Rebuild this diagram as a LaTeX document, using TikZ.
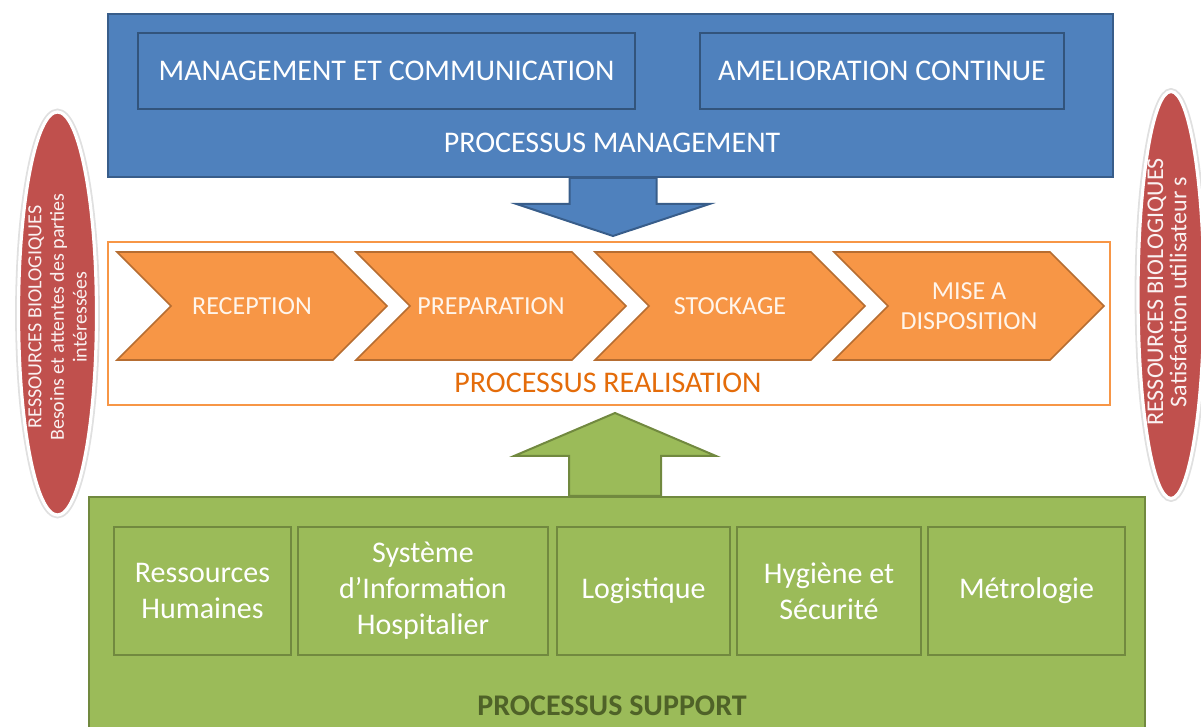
\documentclass[tikz,border=0pt]{standalone}
\usepackage{fontspec}
\setmainfont{Carlito}
\usepackage{xcolor}
\usepackage{tikz}
\usetikzlibrary{shapes.symbols, shapes.geometric, positioning}

\definecolor{mgblue}{HTML}{4F81BD}
\definecolor{mgblueline}{HTML}{385D8A}
\definecolor{reorange}{HTML}{F79646}
\definecolor{reorangeline}{HTML}{B66D31}
\definecolor{retext}{HTML}{E46C0A}
\definecolor{spgreen}{HTML}{9BBB59}
\definecolor{spgreenline}{HTML}{71893F}
\definecolor{sptext}{HTML}{4F6228}
\definecolor{rbred}{HTML}{C0504D}

\begin{document}
\begin{tikzpicture}[x=0.5pt, y=-0.5pt, node distance=119.5pt,
                    font=\fontsize{15}{18}\selectfont]
\tikzstyle{mgbox}=[rectangle, draw=mgblueline, fill=mgblue, line width=1pt,
                    text=white, inner sep=0pt]
\tikzstyle{spbox}=[rectangle, draw=spgreenline, fill=spgreen, line width=1.2pt,
                    text=white, inner sep=0pt, align=center,
                    minimum height=64pt]
\tikzstyle{chevron}=[signal, signal to=east, signal from=west,
                    signal pointer angle=90, draw=reorangeline, fill=reorange,
                    line width=0.8pt, text=white!92!orange, align=center,
                    minimum width=135pt, minimum height=54pt, inner sep=0pt,
                    font=\fontsize{13}{15}\selectfont]
\tikzstyle{rbell}=[ellipse, fill=rbred, draw=white, line width=1.6pt,
                    preaction={draw=black!12, line width=3.4pt}, inner sep=0pt]
\tikzstyle{rbtext}=[rotate=90, text=white!92!rbred, align=center, inner sep=0pt]
\useasboundingbox (0,0) rectangle (1201,727);

  \node[mgbox, minimum width=502.5pt, minimum height=81.5pt] (mgmt) at (610.5,95.5) {};
  \node[mgbox, line width=1.2pt, draw=mgblueline!90!black, minimum width=248.5pt,
        minimum height=38pt] (mgcom) at (386.5,71) {MANAGEMENT ET COMMUNICATION};
  \node[mgbox, line width=1.2pt, draw=mgblueline!90!black, minimum width=182pt,
        minimum height=38pt] (amelio) at (882,71) {AMELIORATION CONTINUE};
  \node[text=white] (mgmtlabel) at (612,143) {PROCESSUS MANAGEMENT};

  \node[rectangle, draw=reorange, fill=white, line width=1pt, minimum width=501pt,
        minimum height=81.5pt] (real) at (609,323.5) {};
  \node[chevron] (recep) at (252,306) {RECEPTION};
  \node[chevron] (prep) [right of=recep] {PREPARATION};
  \node[chevron] (stock) [right of=prep] {STOCKAGE};
  \node[chevron] (dispo) [right of=stock] {MISE A\\DISPOSITION};
  \node[text=retext] (reallabel) at (608,383) {PROCESSUS REALISATION};

  \node[rectangle, draw=spgreenline, fill=spgreen, line width=1pt, minimum width=528pt,
        minimum height=121.5pt] (supp) at (617,618.5) {};
  \node[spbox, minimum width=88.5pt] (rh) at (202.5,591) {Ressources\\Humaines};
  \node[spbox, minimum width=125pt] (sih) at (423,591) {Système\\d’Information\\Hospitalier};
  \node[spbox, minimum width=86.5pt] (logi) at (643.5,591) {Logistique};
  \node[spbox, minimum width=92pt] (hyg) at (829,591) {Hygiène et\\Sécurité};
  \node[spbox, minimum width=98.5pt] (metro) at (1026.5,591) {Métrologie};
  \node[text=sptext, font=\fontsize{15}{18}\selectfont\bfseries] (supplabel) at (612,706)
        {PROCESSUS SUPPORT};

  \draw[fill=mgblue, draw=mgblueline, line width=1pt]
        ([xshift=-20.5pt]mgmt.south) -- ++(0,26) -- ++(-53,0) -- ++(96.5,32)
        -- ++(96.5,-32) -- ++(-53,0) -- ++(0,-26) -- cycle;
  \draw[fill=spgreen, draw=spgreenline, line width=1pt]
        ([xshift=-24pt]supp.north) -- ++(0,-40) -- ++(-55,0) -- ++(101,-43)
        -- ++(101,43) -- ++(-55,0) -- ++(0,40) -- cycle;

  \node[rbell, minimum width=39pt, minimum height=201.5pt] (besoins) at (57.5,313.5) {};
  \node[rbtext, font=\fontsize{10}{11.3}\selectfont] (besoinstext) at (57.5,317)
        {RESSOURCES BIOLOGIQUES\\Besoins et attentes des parties\\intéressées};
  \node[rbell, minimum width=33pt, minimum height=203.5pt] (satisf) at (1171,295) {};
  \node[rbtext, font=\fontsize{12}{11.6}\selectfont] (satisftext) at (1167,292)
        {RESSOURCES BIOLOGIQUES\\Satisfaction utilisateur s};
\end{tikzpicture}
\end{document}
